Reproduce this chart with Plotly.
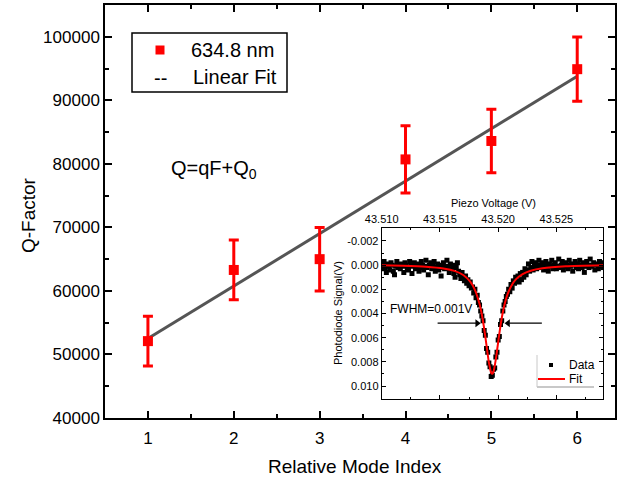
import numpy as np
import plotly.graph_objects as go

# ---------------- main data ----------------
mode_index = [1, 2, 3, 4, 5, 6]
q_factor = [52100, 63300, 65000, 80700, 83600, 94900]
q_error = [3900, 4700, 5000, 5300, 5000, 5050]
fit_x = [1, 6]
fit_q = [52500, 93800]

# ---------------- inset data ----------------
# photodiode signal (mV), sampled every 0.1 mV of piezo voltage starting at 43.5098 V
inset_start = 43.5098
inset_step = 0.0001
signal_mV = [
    0.1, -0.2, 0.3, 0.0, -0.3, 0.2, 0.6, -0.1, 0.1, 0.4,
    -0.2, 0.0, 0.5, 0.8, 0.1, -0.3, 0.2, 0.0, 0.3, -0.1,
    0.1, 0.6, -0.2, 0.0, 0.2, 0.4, -0.3, 0.1, 0.7, 0.0,
    -0.2, 0.3, 0.1, -0.1, 0.5, 0.2, -0.3, 0.0, 0.4, 0.1,
    -0.4, 0.2, 0.8, 0.0, -0.2, 0.3, 0.1, -0.3, 0.5, 0.2,
    -0.1, 0.4, 0.0, 0.9, 0.2, -0.2, 0.3, 0.1, -0.4, 0.2,
    0.6, -0.1, 0.3, 0.0, 0.7, 1.0, 0.2, -0.2, 0.5, 0.8,
    1.1, 0.6, 1.0, 1.3, 0.9, 1.5, 1.2, 1.7, 1.4, 1.9,
    1.8, 2.3, 2.0, 2.7, 2.5, 3.1, 3.3, 3.8, 4.2, 4.6,
    5.4, 5.8, 6.9, 7.2, 8.1, 8.4, 9.2, 9.1, 8.6, 8.5,
    7.6, 7.2, 6.2, 5.9, 4.9, 4.6, 3.8, 3.3, 3.0, 2.6,
    2.4, 2.0, 2.2, 1.6, 1.9, 1.3, 1.5, 1.0, 1.3, 0.9,
    1.4, 0.7, 1.2, 0.6, 1.0, 0.3, 0.8, 0.4, -0.1, 0.5,
    0.2, -0.3, 0.4, 0.1, -0.2, 0.3, 0.0, -0.4, 0.2, 0.1,
    -0.2, 0.4, 0.0, -0.3, 0.2, 0.5, -0.1, 0.1, -0.4, 0.3,
    0.0, -0.2, 0.3, 0.1, -0.5, 0.2, 0.0, -0.3, 0.4, 0.1,
    -0.2, 0.0, 0.3, -0.4, 0.1, -0.1, 0.5, 0.0, -0.3, 0.2,
    -0.1, 0.3, -0.4, 0.0, 0.2, -0.2, 0.6, 0.1, -0.3, 0.0,
    0.2, -0.5, 0.1, 0.0, -0.2, 0.4, -0.1, 0.0, 0.3, -0.3,
    0.1, -0.2, 0.2, 0.0,
]
fit_voltage = [43.5098, 43.5118, 43.5138, 43.5153, 43.5163, 43.5170, 43.5176,
               43.5180, 43.5184, 43.5186, 43.5188, 43.5190, 43.5192, 43.5194,
               43.5195, 43.5196, 43.5198, 43.5200, 43.5202, 43.5204, 43.5206,
               43.5208, 43.5211, 43.5215, 43.5221, 43.5228, 43.5238, 43.5258,
               43.5293]
fit_signal_mV = [0.01, 0.05, 0.13, 0.28, 0.50, 0.82, 1.37,
                 2.04, 3.21, 4.10, 5.26, 6.65, 8.03, 8.91,
                 8.99, 8.81, 7.78, 6.36, 5.01, 3.90, 3.06,
                 2.42, 1.76, 1.20, 0.74, 0.46, 0.26, 0.10,
                 0.01]
inset_xticks = [43.510, 43.515, 43.520, 43.525]
inset_yticks = [-0.002, 0.000, 0.002, 0.004, 0.006, 0.008, 0.010]

data_voltage = np.round(inset_start + inset_step * np.arange(len(signal_mV)), 5)
data_signal = np.array(signal_mV) / 1000.0
fit_signal = np.array(fit_signal_mV) / 1000.0

FONT = "Arial, 'Liberation Sans', sans-serif"
W, H = 618, 481
L, R, T, B = 105, 3, 5, 63
PW, PH = W - L - R, H - T - B


def px(x):
    return (x - L) / PW


def py(y):
    return (H - B - y) / PH


fig = go.Figure()

# main linear fit
fig.add_trace(go.Scatter(x=fit_x, y=fit_q, mode="lines",
                         line=dict(color="#555555", width=3),
                         showlegend=False, xaxis="x", yaxis="y"))
# main data with error bars
fig.add_trace(go.Scatter(x=mode_index, y=q_factor, mode="markers",
                         marker=dict(symbol="square", size=10, color="#ff0000"),
                         error_y=dict(type="data", array=q_error, color="#ff0000",
                                      thickness=3, width=5),
                         showlegend=False, xaxis="x", yaxis="y"))

# inset data
fig.add_trace(go.Scatter(x=data_voltage, y=data_signal, mode="markers",
                         marker=dict(symbol="square", size=5, color="black"),
                         showlegend=False, xaxis="x2", yaxis="y2"))
fig.add_trace(go.Scatter(x=fit_voltage, y=fit_signal, mode="lines",
                         line=dict(color="#ff0000", width=2, shape="spline", smoothing=0.6),
                         showlegend=False, xaxis="x2", yaxis="y2"))

# FWHM arrows (line + filled head)
arrow_y = 0.0048
fig.add_trace(go.Scatter(x=[43.5148, 43.5181], y=[arrow_y, arrow_y], mode="lines",
                         line=dict(color="black", width=1.2), showlegend=False,
                         xaxis="x2", yaxis="y2", hoverinfo="skip"))
fig.add_trace(go.Scatter(x=[43.52095, 43.52375], y=[arrow_y, arrow_y], mode="lines",
                         line=dict(color="black", width=1.2), showlegend=False,
                         xaxis="x2", yaxis="y2", hoverinfo="skip"))
fig.add_trace(go.Scatter(x=[43.5182, 43.52085], y=[arrow_y, arrow_y], mode="markers",
                         marker=dict(symbol=["triangle-right", "triangle-left"], size=7, color="black"),
                         showlegend=False, xaxis="x2", yaxis="y2", hoverinfo="skip"))

axis_common = dict(showgrid=False, zeroline=False, showline=True, linecolor="black",
                   linewidth=1.5, mirror="ticks", ticks="inside", tickcolor="black",
                   tickwidth=1.5, ticklen=7)

inset_dom_x = [px(381.7), px(603)]
inset_dom_y = [py(399), py(228)]

fig.update_layout(
    width=W, height=H,
    margin=dict(l=L, r=R, t=T, b=B, autoexpand=False),
    paper_bgcolor="white", plot_bgcolor="white",
    font=dict(family=FONT, color="black"),
    xaxis=dict(range=[0.5, 6.44], tickvals=mode_index, domain=[0, 1],
               tickfont=dict(size=17), ticklabelstandoff=4,
               minor=dict(dtick=0.5, tick0=0.5, ticks="inside", ticklen=4, tickcolor="black", tickwidth=1.5),
               **axis_common),
    yaxis=dict(range=[40000, 105000], tickvals=list(range(40000, 100001, 10000)),
               tickformat="d", tickfont=dict(size=17), domain=[0, 1],
               minor=dict(dtick=5000, tick0=40000, ticks="inside", ticklen=4, tickcolor="black", tickwidth=1.5),
               **axis_common),
    xaxis2=dict(domain=inset_dom_x, anchor="y2", side="top", range=[43.510, 43.529],
                tickvals=inset_xticks, ticktext=[f"{v:.3f}" for v in inset_xticks],
                tickfont=dict(size=11),
                showgrid=False, zeroline=False, showline=True, linecolor="black",
                linewidth=1, mirror="ticks", ticks="inside", tickcolor="black",
                tickwidth=1, ticklen=4,
                minor=dict(dtick=0.0025, tick0=43.5075, ticks="inside", ticklen=2, tickcolor="black")),
    yaxis2=dict(domain=inset_dom_y, anchor="x2", range=[0.01107, -0.00307],
                tickvals=inset_yticks, ticktext=[f"{v:.3f}" for v in inset_yticks],
                tickfont=dict(size=11),
                showgrid=False, zeroline=False, showline=True, linecolor="black",
                linewidth=1, mirror="ticks", ticks="inside", tickcolor="black",
                tickwidth=1, ticklen=4,
                minor=dict(dtick=0.001, tick0=-0.003, ticks="inside", ticklen=2, tickcolor="black")),
)


def label(text, x, y, size, xanchor="center", angle=0):
    return dict(text=text, x=px(x), y=py(y), xref="paper", yref="paper",
                xanchor=xanchor, yanchor="middle", showarrow=False,
                textangle=angle, font=dict(size=size))


ann = [
    label("Q-Factor", 28, 215, 19, angle=-90),
    label("Relative Mode Index", 355, 467, 19),
    label("Q=qF+Q<sub>0</sub>", 169, 170, 20, xanchor="left"),
    label("634.8 nm", 189, 50, 20, xanchor="left"),
    label("--", 160, 78, 20),
    label("Linear Fit", 191, 77, 20, xanchor="left"),
    label("Piezo Voltage (V)", 493, 203, 11),
    label("Photodiode Signal(V)", 338, 313, 11, angle=-90),
    label("FWHM=0.001V", 388, 309, 12, xanchor="left"),
    label("Data", 567, 365, 12, xanchor="left"),
    label("Fit", 567, 379, 12, xanchor="left"),
]
fig.update_layout(annotations=ann)

shapes = []
# main legend box
shapes.append(dict(type="rect", xref="paper", yref="paper",
                   x0=px(132), x1=px(287), y0=py(92), y1=py(33),
                   line=dict(color="black", width=1.5), fillcolor="rgba(0,0,0,0)"))
shapes.append(dict(type="rect", xref="paper", yref="paper",
                   x0=px(155.5), x1=px(164.5), y0=py(54.5), y1=py(45.5),
                   line=dict(width=0), fillcolor="#ff0000"))
# inset legend frame
shapes.append(dict(type="line", xref="paper", yref="paper",
                   x0=px(537), x1=px(537), y0=py(355), y1=py(387),
                   line=dict(color="#c8c8c8", width=1)))
shapes.append(dict(type="line", xref="paper", yref="paper",
                   x0=px(537), x1=px(594), y0=py(387), y1=py(387),
                   line=dict(color="#c8c8c8", width=2)))
shapes.append(dict(type="rect", xref="paper", yref="paper",
                   x0=px(549), x1=px(553), y0=py(367), y1=py(363),
                   line=dict(width=0), fillcolor="black"))
shapes.append(dict(type="line", xref="paper", yref="paper",
                   x0=px(538), x1=px(565), y0=py(379), y1=py(379),
                   line=dict(color="#ff0000", width=2)))
fig.update_layout(shapes=shapes)

fig.write_html("out.html", config={"responsive": False, "displayModeBar": False},
               post_script="document.body.style.margin='0';document.body.style.padding='0';")
